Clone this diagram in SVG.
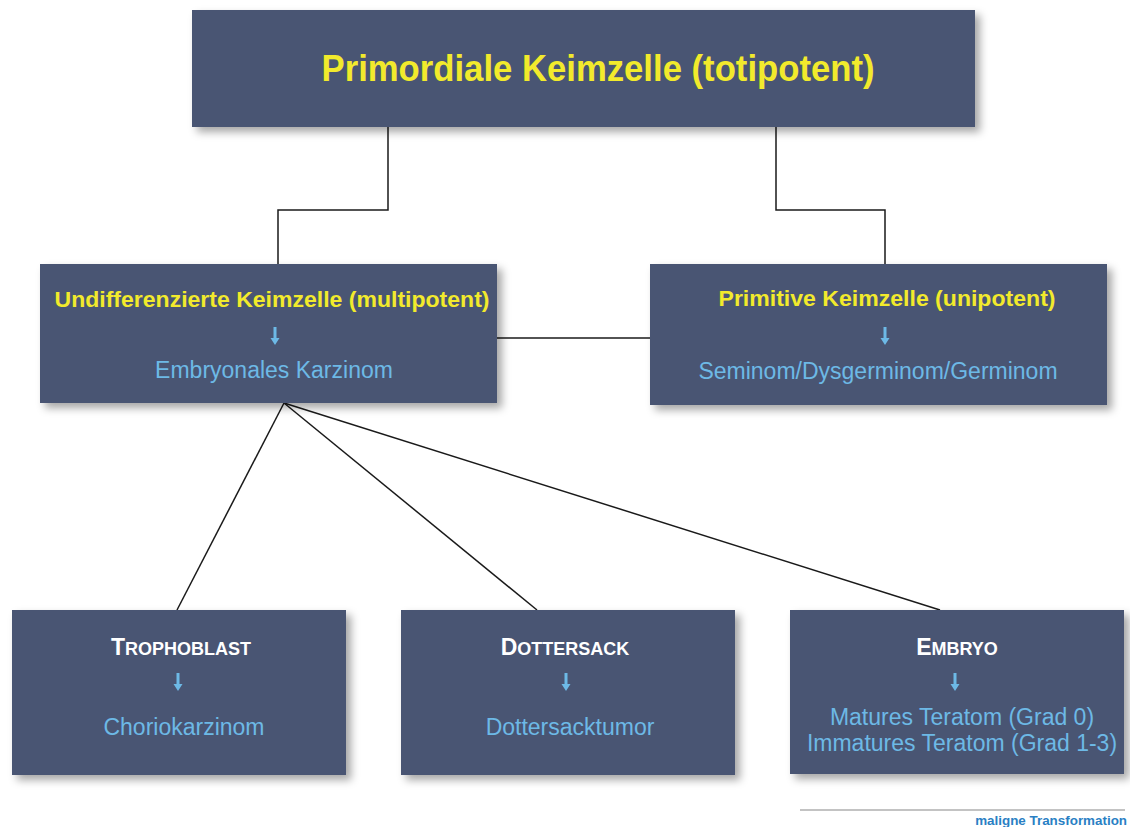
<svg xmlns="http://www.w3.org/2000/svg" width="1130" height="827" viewBox="0 0 1130 827">
<style>
.box{fill:#4a5573;filter:url(#sh);}
.t1{font-family:"Liberation Sans",Arial,sans-serif;font-weight:bold;fill:#f2ea2c;text-anchor:middle;}
.t2{font-family:"Liberation Sans",Arial,sans-serif;fill:#6db9e6;text-anchor:middle;font-size:23px;}
.t3{font-family:"Liberation Sans",Arial,sans-serif;font-weight:bold;fill:#ffffff;text-anchor:middle;font-size:18px;}
.con{stroke:#1a1a1a;stroke-width:1.5;fill:none;}
.arr{fill:#6db9e6;}
</style>
<defs>
<filter id="sh" x="-10%" y="-10%" width="130%" height="140%">
<feDropShadow dx="5" dy="5" stdDeviation="4" flood-color="#000" flood-opacity="0.35"/>
</filter>
<path id="ar" d="M-1.5,0 h3 v11 h3 l-4.5,7 l-4.5,-7 h3 z"/>
</defs>
<rect width="1130" height="827" fill="#ffffff"/>
<g id="connectors">
<polyline class="con" points="388,127 388,210 278,210 278,264"/>
<polyline class="con" points="776,127 776,210 885,210 885,264"/>
<line class="con" x1="497" y1="338" x2="650" y2="338"/>
<line class="con" x1="284" y1="403" x2="177" y2="610"/>
<line class="con" x1="284" y1="403" x2="537" y2="610"/>
<line class="con" x1="284" y1="403" x2="940" y2="610"/>
</g>
<g id="n-primordial">
<rect class="box" x="192" y="10" width="783" height="117"/>
<text class="t1" x="598" y="81" font-size="37" textLength="553" lengthAdjust="spacingAndGlyphs">Primordiale Keimzelle (totipotent)</text>
</g>
<g id="n-undiff">
<rect class="box" x="40" y="264" width="457" height="139"/>
<text class="t1" x="272" y="307" font-size="22" textLength="435" lengthAdjust="spacingAndGlyphs">Undifferenzierte Keimzelle (multipotent)</text>
<use href="#ar" x="275" y="327" class="arr"/>
<text class="t2" x="274" y="378">Embryonales Karzinom</text>
</g>
<g id="n-primitive">
<rect class="box" x="650" y="264" width="457" height="141"/>
<text class="t1" x="887" y="306" font-size="22" textLength="337" lengthAdjust="spacingAndGlyphs">Primitive Keimzelle (unipotent)</text>
<use href="#ar" x="885" y="327" class="arr"/>
<text class="t2" x="878" y="379">Seminom/Dysgerminom/Germinom</text>
</g>
<g id="n-trophoblast">
<rect class="box" x="12" y="610" width="334" height="165"/>
<text class="t3" x="181" y="655"><tspan font-size="23">T</tspan>ROPHOBLAST</text>
<use href="#ar" x="178" y="673" class="arr"/>
<text class="t2" x="184" y="735">Choriokarzinom</text>
</g>
<g id="n-dottersack">
<rect class="box" x="401" y="610" width="334" height="165"/>
<text class="t3" x="565" y="655"><tspan font-size="23">D</tspan>OTTERSACK</text>
<use href="#ar" x="566" y="673" class="arr"/>
<text class="t2" x="570" y="735">Dottersacktumor</text>
</g>
<g id="n-embryo">
<rect class="box" x="790" y="610" width="334" height="164"/>
<text class="t3" x="957" y="655"><tspan font-size="23">E</tspan>MBRYO</text>
<use href="#ar" x="955" y="673" class="arr"/>
<text class="t2" x="962" y="725">Matures Teratom (Grad 0)</text>
<text class="t2" x="962" y="751">Immatures Teratom (Grad 1-3)</text>
</g>
<g id="legend">
<line x1="800" y1="810" x2="1125" y2="810" stroke="#888888" stroke-width="1.2"/>
<text x="1127" y="825" font-family="'Liberation Sans',Arial,sans-serif" font-weight="bold" font-size="13.4" fill="#2a7fc4" text-anchor="end">maligne Transformation</text>
</g>
</svg>
